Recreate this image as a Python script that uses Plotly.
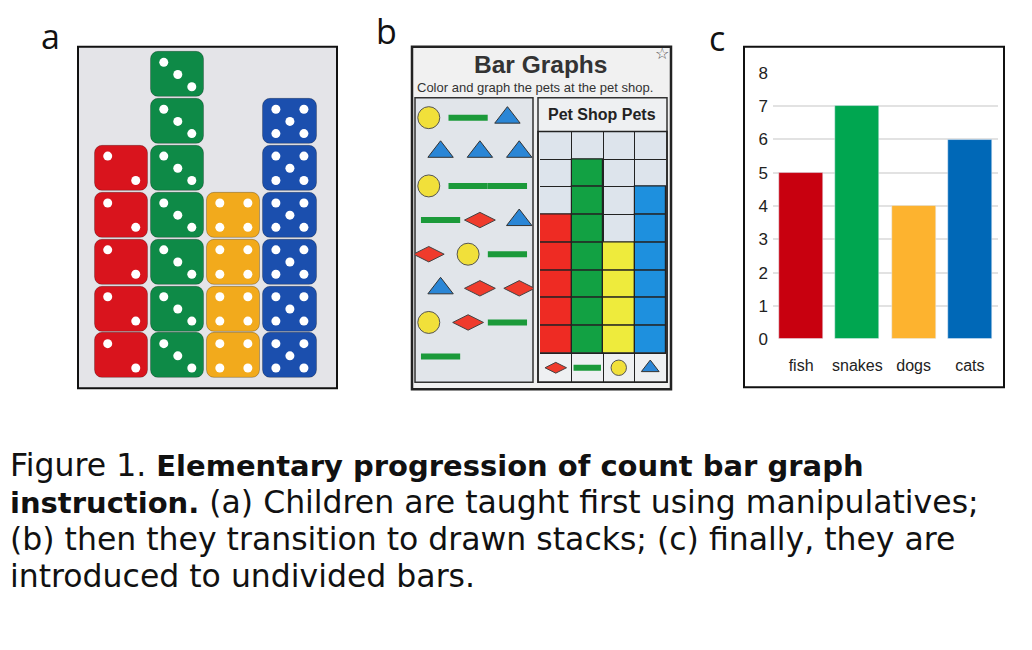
import plotly.graph_objects as go

# page body keeps its default 8px margin, so the figure is 16px smaller
W, H = 1016, 634
OFF = 8

# counts shown in every panel
pets = ["fish", "snakes", "dogs", "cats"]
counts = [5, 7, 4, 6]

# panel a: dice stacks (face shown on each die of a stack)
dice_faces = [2, 3, 4, 5]

# panel b: pets drawn on the worksheet, in reading order
animal_order = ["dog", "snake", "cat", "cat", "cat", "cat", "dog", "snake",
                "snake", "snake", "fish", "cat", "fish", "dog", "snake", "cat",
                "fish", "fish", "dog", "fish", "snake", "snake"]
grid_icons = ["fish", "snake", "dog", "cat"]

# panel c
yticks = [0, 1, 2, 3, 4, 5, 6, 7, 8]

B = '<b><span style="font-size:29px">%s</span></b>'
caption_lines = [
    "Figure 1. " + B % "Elementary progression of count bar graph",
    B % "instruction." + " (a) Children are taught first using manipulatives;",
    "(b) then they transition to drawn stacks; (c) finally, they are",
    "introduced to undivided bars.",
]

dice_colors = ["#d9141d", "#0e8a47", "#f2aa1c", "#1b4fae"]
crayon_colors = ["#ee2b23", "#12a143", "#eeeb3c", "#1e90de"]
chart_colors = ["#c8000f", "#00a650", "#fdb32f", "#0068b7"]

animal_style = {
    "dog": dict(color="#f1e03a", symbol="circle", size=22, line=dict(color="#555", width=1)),
    "cat": dict(color="#2a86d6", symbol="triangle-up", size=22, line=dict(color="#333", width=1)),
    "fish": dict(color="#ef3b2c", symbol="diamond-wide", size=22, line=dict(color="#444", width=1)),
    "snake": dict(color="#1b9a3a", symbol="line-ew", size=28, line=dict(color="#1b9a3a", width=6)),
}

PIPS = {
    2: [(-1, 1), (1, -1)],
    3: [(-1, 1), (0, 0), (1, -1)],
    4: [(-1, 1), (1, 1), (-1, -1), (1, -1)],
    5: [(-1, 1), (1, 1), (0, 0), (-1, -1), (1, -1)],
}


def fx(px):
    return (px - OFF) / W


def fy(py):
    # the screenshot squeezes the page a little vertically
    page_y = (py - 9.3) / 0.972
    return 1 - (page_y - OFF) / H


def box(x0, y0, x1, y1, **kw):
    return dict(type="rect", xref="paper", yref="paper",
                x0=fx(x0), x1=fx(x1), y0=fy(y1), y1=fy(y0), **kw)


fig = go.Figure()

# ---- panel a: dice
pip_x, pip_y = [], []
for i, (n, face) in enumerate(zip(counts, dice_faces)):
    fig.add_trace(go.Bar(
        x=[i] * n, y=[0.96] * n, base=[k + 0.02 for k in range(n)],
        width=0.95, marker=dict(color=dice_colors[i], cornerradius=8,
                                line=dict(color="rgba(0,0,0,0.25)", width=1)),
        xaxis="x", yaxis="y", hoverinfo="skip"))
    for k in range(n):
        for dx, dy in PIPS[face]:
            pip_x.append(i + dx * 0.25)
            pip_y.append(k + 0.5 + dy * 0.26)
fig.add_trace(go.Scatter(x=pip_x, y=pip_y, mode="markers",
                         marker=dict(color="white", size=9),
                         xaxis="x", yaxis="y", hoverinfo="skip"))

# ---- panel b: animals to count
for kind in animal_style:
    xs, ys = [], []
    for idx, a in enumerate(animal_order):
        if a != kind:
            continue
        row, col = divmod(idx, 3)
        xs.append(col + 0.5 + (0.15 if row % 2 else -0.15))
        ys.append(9.3 - row * 1.2)
    fig.add_trace(go.Scatter(x=xs, y=ys, mode="markers", marker=animal_style[kind],
                             xaxis="x2", yaxis="y2", hoverinfo="skip"))

# ---- panel b: coloured grid
for i, n in enumerate(counts):
    fig.add_trace(go.Bar(
        x=[i] * n, y=[1] * n, base=list(range(n)), width=1,
        marker=dict(color=crayon_colors[i], line=dict(color="#222", width=1.2)),
        xaxis="x3", yaxis="y3", hoverinfo="skip"))
for i, kind in enumerate(grid_icons):
    st = dict(animal_style[kind])
    st["size"] = st["size"] * 0.7
    fig.add_trace(go.Scatter(x=[i], y=[-0.52], mode="markers", marker=st,
                             xaxis="x3", yaxis="y3", hoverinfo="skip"))

# ---- panel c: undivided bars
fig.add_trace(go.Bar(x=pets, y=counts, width=0.78, marker_color=chart_colors,
                     xaxis="x4", yaxis="y4"))

hidden = dict(showgrid=False, zeroline=False, showticklabels=False, ticks="")
fig.update_layout(
    width=W, height=H, margin=dict(l=0, r=0, t=0, b=0),
    paper_bgcolor="white", plot_bgcolor="rgba(0,0,0,0)",
    showlegend=False, barmode="overlay", bargap=0,
    font=dict(family="Liberation Sans, Arial", color="#222"),
    xaxis=dict(domain=[fx(78), fx(337)], range=[-0.78, 3.84], **hidden),
    yaxis=dict(domain=[fy(389), fy(47)], range=[-0.19, 7.09], **hidden),
    xaxis2=dict(domain=[fx(415), fx(533)], range=[0, 3], anchor="y2", **hidden),
    yaxis2=dict(domain=[fy(383), fy(98)], range=[0, 10], anchor="x2", **hidden),
    xaxis3=dict(domain=[fx(540), fx(666)], range=[-0.5, 3.5], anchor="y3",
                showgrid=True, gridcolor="#222", gridwidth=1.2,
                tickvals=[-0.5, 0.5, 1.5, 2.5, 3.5], zeroline=False,
                showticklabels=False, ticks=""),
    yaxis3=dict(domain=[fy(383), fy(131.7)], range=[-1.04, 8], anchor="x3",
                showgrid=True, gridcolor="#222", gridwidth=1.2,
                tickvals=list(range(0, 9)), zeroline=False,
                showticklabels=False, ticks=""),
    xaxis4=dict(domain=[fx(773), fx(998)], range=[-0.5, 3.5], anchor="y4",
                showgrid=False, ticks="", ticklabelstandoff=15,
                tickfont=dict(size=16, color="#222")),
    yaxis4=dict(domain=[fy(340), fy(73)], range=[0, 8], anchor="x4",
                tickvals=yticks, showgrid=True, gridcolor="#e2e2e2", gridwidth=1.5,
                zeroline=False, ticks="", ticklabelstandoff=4,
                tickfont=dict(size=17, color="#222")),
)

shapes = [
    # panel a photo background and frame
    box(78, 47, 337, 389, fillcolor="#e4e4e8", line=dict(width=0), layer="below"),
    box(78, 47, 337, 389, line=dict(color="#111", width=2), layer="above"),
    # panel b worksheet
    box(412, 47, 671, 390, fillcolor="#f1f1f1", line=dict(color="#222", width=2.5), layer="below"),
    box(415, 98, 533, 383, fillcolor="#e1e5ea", line=dict(color="#333", width=1.5), layer="below"),
    box(538, 98, 667, 383, fillcolor="#eef0f2", line=dict(color="#333", width=1.5), layer="below"),
    box(540, 131.7, 666, 354, fillcolor="#dde4ec", line=dict(width=0), layer="below"),
    box(538, 131.7, 667, 383, line=dict(color="#222", width=1.5), layer="above"),
    # panel c frame
    box(744, 47, 1004, 388, line=dict(color="#111", width=2), layer="above"),
]
fig.update_layout(shapes=shapes)

label_font = dict(family="Open Sans, sans-serif", size=34, color="#111")
# caption: line spacing follows the outer size, glyphs use the inner one
caption = "<br>".join('<span style="font-size:31.5px">%s</span>' % s for s in caption_lines)
ann = [
    dict(text="a", x=fx(50), y=fy(36.5), font=label_font),
    dict(text="b", x=fx(386), y=fy(31), font=label_font),
    dict(text="c", x=fx(717), y=fy(38), font=label_font),
    dict(text="<b>Bar Graphs</b>", x=fx(540), y=fy(65),
         font=dict(family="Liberation Sans", size=24.5, color="#333")),
    dict(text="Color and graph the pets at the pet shop.", x=fx(535), y=fy(88),
         font=dict(family="Liberation Sans", size=13, color="#333")),
    dict(text="☆", x=fx(662), y=fy(54), font=dict(size=16, color="#555")),
    dict(text="<b>Pet Shop Pets</b>", x=fx(602), y=fy(115),
         font=dict(family="Liberation Sans Narrow, Liberation Sans", size=16, color="#222")),
    dict(text=caption, x=fx(8), y=fy(522), xanchor="left", align="left",
         font=dict(family="DejaVu Sans, sans-serif", size=28.4, color="#111")),
]
for a in ann:
    a.setdefault("xref", "paper")
    a.setdefault("yref", "paper")
    a.setdefault("xanchor", "center")
    a.setdefault("yanchor", "middle")
    a.setdefault("showarrow", False)
fig.update_layout(annotations=ann)

fig.write_html("out.html")
